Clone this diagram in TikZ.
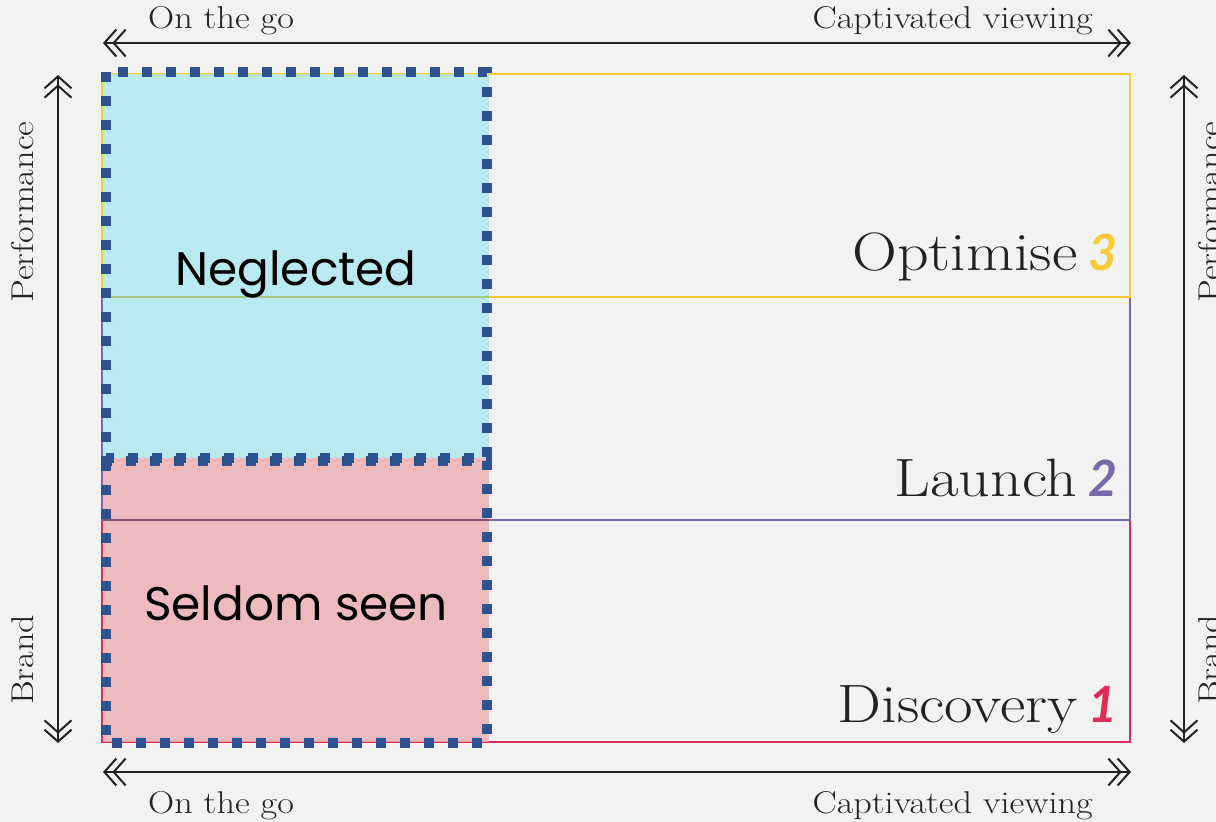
\documentclass[tikz,border=0pt]{standalone}
\usepackage{fontspec}
\newfontfamily\geo{Poppins}
\newfontfamily\numf{Lato}
\newfontfamily\slab[FakeStretch=1.15]{Latin Modern Roman}
\usetikzlibrary{arrows.meta}
\definecolor{bg}{HTML}{F2F2F2}
\definecolor{ink}{HTML}{222222}
\definecolor{yel}{HTML}{F9CB35}
\definecolor{pur}{HTML}{7A69A9}
\definecolor{red1}{HTML}{E02A58}
\definecolor{cyanf}{RGB}{171,233,241}
\definecolor{pinkf}{RGB}{236,172,176}
\definecolor{dblue}{HTML}{2E5190}
\tikzset{
  chev/.tip={Straight Barb[length=12pt,width=27pt,line width=2pt,sep=-5pt]Straight Barb[length=12pt,width=27pt,line width=2pt]},
  dbl/.style={draw=ink,line width=2.5pt,{chev}-{chev}},
  band/.style={line width=2pt},
  dbox/.style={draw=dblue,line width=10pt,dash pattern=on 10pt off 14pt},
  small/.style={text=ink,font=\slab\fontsize{31.5}{36}\selectfont,inner sep=0pt},
  big/.style={text=ink,font=\slab\fontsize{54}{60}\selectfont,inner sep=0pt},
  geol/.style={text=black,font=\geo\fontsize{47}{52}\selectfont,inner sep=0pt},
  num/.style={font=\numf\bfseries\itshape\fontsize{50}{56}\selectfont,inner sep=0pt}
}
\begin{document}
\begin{tikzpicture}[x=1pt,y=-1pt]
\useasboundingbox (0,0) rectangle (1216,822);
\clip (0,0) rectangle (1216,822);
\fill[bg] (0,0) rectangle (1216,822);

% bands
\draw[band,red1] (102,520) rectangle (1130,742);
\draw[band,pur] (102,297) rectangle (1130,520);
\draw[band,yel] (102,74) rectangle (1130,297);

% translucent fills
\fill[cyanf,fill opacity=0.8] (103,74) rectangle (489,458);
\fill[pinkf,fill opacity=0.8] (103,458) rectangle (489,742);

% band lines seen through the fills
\draw[band,yel!70!green!80!black,opacity=0.45] (103,297) -- (489,297);
\draw[band,pur!60!red1!70!black,opacity=0.75] (103,520) -- (489,520);

% dashed boxes
\draw[dbox] (106,461) rectangle (487,743);
\draw[dbox] (106,72) rectangle (487,458);

% labels in quadrants
\node[geol,anchor=base] (neg) at (296,285) {Neglected};
\node[geol,anchor=base] (sel) at (296,620) {Seldom seen};

% band labels
\node[num,text=yel,anchor=base east] (n3) at (1118,270) {3};
\node[big,anchor=base east] (opt) at ([xshift=-11pt]n3.base west) {Optimise};
\node[num,text=pur,anchor=base east] (n2) at (1118,496) {2};
\node[big,anchor=base east] (lau) at ([xshift=-11pt]n2.base west) {Launch};
\node[num,text=red1,anchor=base east] (n1) at (1118,722) {1};
\node[big,anchor=base east] (dis) at ([xshift=-11pt]n1.base west) {Discovery};

% axes
\coordinate (tl) at (103,43); \coordinate (tr) at (1131,43);
\coordinate (bl) at (103,772); \coordinate (br) at (1131,772);
\coordinate (lt) at (58,75); \coordinate (lb) at (58,743);
\coordinate (rt) at (1184,75); \coordinate (rb) at (1184,743);
\draw[dbl] (tl) -- (tr);
\draw[dbl] (bl) -- (br);
\draw[dbl] (lt) -- (lb);
\draw[dbl] (rt) -- (rb);

\node[small,anchor=base west] (tgo) at (148,28) {On the go};
\node[small,anchor=base east] (tcv) at (1093,28) {Captivated viewing};
\node[small,anchor=base west] (bgo) at (148,813) {On the go};
\node[small,anchor=base east] (bcv) at (1093,813) {Captivated viewing};

\node[small,rotate=90,anchor=base west] (lperf) at (33,303) {Performance};
\node[small,rotate=90,anchor=base west] (lbrand) at (33,705) {Brand};
\node[small,rotate=90,anchor=base west] (rperf) at (1220,303) {Performance};
\node[small,rotate=90,anchor=base west] (rbrand) at (1220,705) {Brand};
\end{tikzpicture}
\end{document}
